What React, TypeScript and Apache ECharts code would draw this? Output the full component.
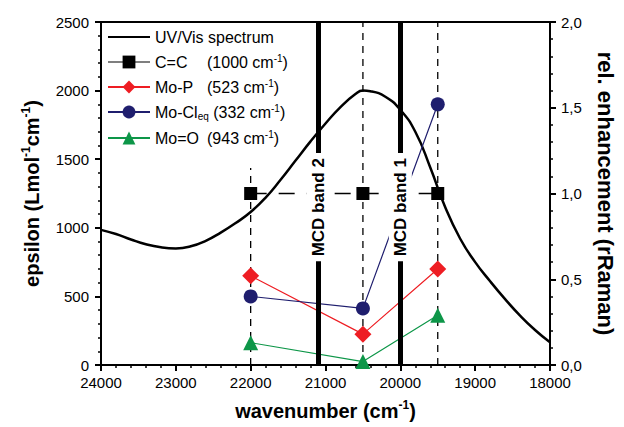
import React, { useEffect, useRef } from 'react';
import * as echarts from 'echarts';

const FONT = '"Liberation Sans", Arial, Helvetica, sans-serif';

// UV/Vis spectrum (left axis, epsilon)
const uvWavenumber = [24000, 23800, 23600, 23400, 23200, 23000, 22800, 22600, 22400, 22200, 22000, 21800, 21600, 21400, 21200, 21000, 20800, 20600, 20500, 20400, 20200, 20000, 19800, 19600, 19400, 19200, 19000, 18800, 18600, 18400, 18200, 18000];
const uvEpsilon = [985, 955, 915, 880, 858, 850, 865, 905, 965, 1035, 1115, 1220, 1350, 1490, 1630, 1760, 1880, 1975, 2000, 1995, 1955, 1860, 1700, 1440, 1150, 920, 750, 610, 480, 360, 255, 165];

// Resonance Raman enhancement (right axis)
const ramanWavenumber = [22000, 20500, 19500];
const ccValues = [1.0, 1.0, 1.0];
const moPValues = [0.52, 0.18, 0.56];
const moClValues = [0.40, 0.33, 1.52];
const moOValues = [0.13, 0.02, 0.29];

// MCD bands
const mcdNames = ['MCD band 2', 'MCD band 1'];
const mcdWavenumber = [21100, 20000];

// excitation guide lines (wavenumber, top in epsilon units)
const guideWavenumber = [22000, 20500, 19500];
const guideTop = [1436, 2500, 2500];

const legendRich: Record<string, string> = {
  'UV/Vis spectrum': '{a|UV/Vis spectrum}',
  'C=C': '{n|C=C}{a|(1000 cm}{s|-1}{a|)}',
  'Mo-P': '{n|Mo-P}{a|(523 cm}{s|-1}{a|)}',
  'Mo-Cleq': '{a|Mo-Cl}{sub|eq}{a| (332 cm}{s|-1}{a|)}',
  'Mo=O': '{n|Mo=O}{a|(943 cm}{s|-1}{a|)}',
};

const RED = '#ee1d23';
const NAVY = '#1f1e6e';
const GREEN = '#0d9648';

export default function App() {
  const ref = useRef<HTMLDivElement>(null);
  useEffect(() => {
    if (!ref.current) return;
    const chart = echarts.init(ref.current, null, { renderer: 'svg' });
    const zip = (xs: number[], ys: number[]) => xs.map((x, i) => [x, ys[i]]);
    const axisLine = { show: true, onZero: false, lineStyle: { color: '#000', width: 2 } };
    const axisTick = { show: true, length: 6, lineStyle: { color: '#000', width: 2 } };
    const minorTick = { show: true, splitNumber: 5, length: 3, lineStyle: { color: '#000', width: 1.5 } };
    const nameRich = {
      a: { fontSize: 20, fontWeight: 'bold', fontFamily: FONT, color: '#000', lineHeight: 24 },
      s: { fontSize: 12, fontWeight: 'bold', fontFamily: FONT, color: '#000', verticalAlign: 'top', lineHeight: 14 },
    };
    const tickLabel = { color: '#000', fontSize: 15, fontFamily: FONT };

    const guideSeries = guideWavenumber.map((wn, i) => ({
      type: 'line',
      name: 'guide' + i,
      yAxisIndex: 0,
      data: [[wn, 0], [wn, guideTop[i]]],
      symbol: 'none',
      lineStyle: { color: '#000', width: 1.3, type: [7, 6] },
      silent: true,
      z: 1,
    }));

    const ramanSeries = (name: string, vals: number[], color: string, symbol: string, size: number, dashed = false) => ({
      type: 'line',
      name,
      yAxisIndex: 1,
      data: zip(ramanWavenumber, vals),
      symbol,
      symbolSize: size,
      showSymbol: true,
      itemStyle: { color },
      lineStyle: { color, width: dashed ? 1.3 : 1.2, type: dashed ? [16, 12] : 'solid' },
      z: 3,
    });

    chart.setOption({
      animation: false,
      backgroundColor: '#fff',
      grid: { left: 101, right: 68, top: 22, bottom: 62, show: true, borderColor: '#000', borderWidth: 2, backgroundColor: 'transparent' },
      legend: {
        orient: 'vertical',
        left: 102,
        top: 24,
        itemWidth: 42,
        itemHeight: 16,
        itemGap: 8,
        data: [
          { name: 'UV/Vis spectrum', itemStyle: { opacity: 0 } },
          { name: 'C=C', lineStyle: { type: 'solid', width: 1.2 } },
          { name: 'Mo-P' },
          { name: 'Mo-Cleq' },
          { name: 'Mo=O' },
        ],
        formatter: (n: string) => legendRich[n] || n,
        textStyle: {
          fontFamily: FONT,
          fontSize: 16,
          color: '#000',
          rich: {
            a: { fontSize: 16, fontFamily: FONT, color: '#000', lineHeight: 18 },
            n: { fontSize: 16, fontFamily: FONT, color: '#000', lineHeight: 18, width: 52 },
            s: { fontSize: 10, fontFamily: FONT, color: '#000', verticalAlign: 'top', lineHeight: 10 },
            sub: { fontSize: 10, fontFamily: FONT, color: '#000', verticalAlign: 'bottom', lineHeight: 12, padding: [6, 0, 0, 0] },
          },
        },
      },
      xAxis: {
        type: 'value',
        min: 18000,
        max: 24000,
        interval: 1000,
        inverse: true,
        name: '{a|wavenumber (cm}{s|-1}{a|)}',
        nameLocation: 'middle',
        nameGap: 34,
        nameTextStyle: { rich: nameRich },
        axisLine,
        axisTick,
        minorTick,
        splitLine: { show: false },
        axisLabel: { ...tickLabel, margin: 10, formatter: (v: number) => String(v) },
      },
      yAxis: [
        {
          type: 'value',
          min: 0,
          max: 2500,
          interval: 500,
          position: 'left',
          name: '{a|epsilon (Lmol}{s|-1}{a|cm}{s|-1}{a|)}',
          nameLocation: 'middle',
          nameRotate: 90,
          nameGap: 57,
          nameTextStyle: { rich: nameRich },
          axisLine,
          axisTick,
          minorTick,
          splitLine: { show: false },
          axisLabel: { ...tickLabel, margin: 12, formatter: (v: number) => String(v) },
        },
        {
          type: 'value',
          min: 0,
          max: 2,
          interval: 0.5,
          position: 'right',
          name: 'rel. enhancement (rRaman)',
          nameLocation: 'middle',
          nameRotate: -90,
          nameGap: 44,
          nameTextStyle: { fontSize: 22, fontWeight: 'bold', fontFamily: FONT, color: '#000' },
          axisLine,
          axisTick,
          minorTick,
          splitLine: { show: false },
          axisLabel: { ...tickLabel, margin: 11, formatter: (v: number) => v.toFixed(1).replace('.', ',') },
        },
      ],
      series: [
        ...guideSeries,
        {
          type: 'line',
          name: 'UV/Vis spectrum',
          yAxisIndex: 0,
          data: zip(uvWavenumber, uvEpsilon),
          smooth: true,
          symbol: 'none',
          itemStyle: { color: '#000' },
          lineStyle: { color: '#000', width: 2.5 },
          z: 2,
          markLine: {
            silent: true,
            symbol: ['none', 'none'],
            lineStyle: { color: '#000', width: 5, type: 'solid' },
            label: { show: false },
            data: mcdWavenumber.map((wn, i) => ({ name: mcdNames[i], xAxis: wn })),
          },
        },
        ramanSeries('C=C', ccValues, '#000', 'rect', 13, true),
        ramanSeries('Mo-P', moPValues, RED, 'diamond', 17),
        ramanSeries('Mo-Cleq', moClValues, NAVY, 'circle', 14),
        ramanSeries('Mo=O', moOValues, GREEN, 'triangle', 15),
      ],
    });

    // MCD band labels placed through the axes' own scales
    const labelEpsilon = 1150;
    const graphics = mcdWavenumber.map((wn, i) => {
      const p = chart.convertToPixel({ xAxisIndex: 0, yAxisIndex: 0 }, [wn, labelEpsilon]) as number[];
      return {
        type: 'text',
        x: p[0],
        y: p[1],
        rotation: Math.PI / 2,
        z: 100,
        silent: true,
        style: {
          text: mcdNames[i],
          align: 'center',
          verticalAlign: 'middle',
          fontSize: 17,
          fontWeight: 'bold',
          fontFamily: FONT,
          fill: '#000',
          backgroundColor: '#fff',
          padding: [3, 5],
        },
      };
    });
    chart.setOption({ graphic: graphics });
    return () => chart.dispose();
  }, []);
  return <div ref={ref} style={{ position: 'fixed', left: 0, top: 0, width: 624, height: 427, background: '#fff' }} />;
}
